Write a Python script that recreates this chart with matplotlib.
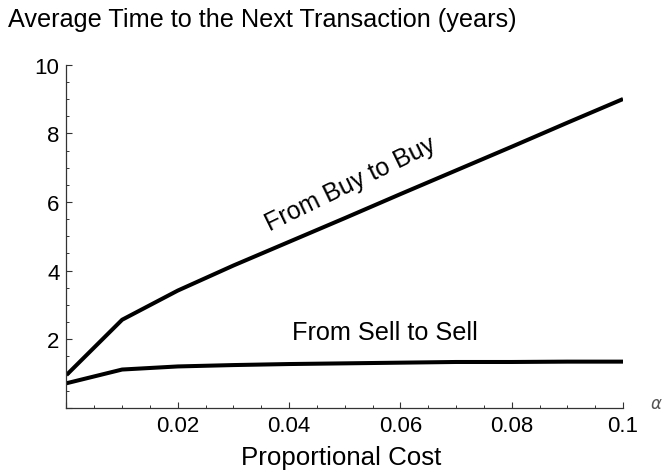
import numpy as np
import matplotlib
matplotlib.use('Agg')
import matplotlib.pyplot as plt
from matplotlib.ticker import MultipleLocator, FuncFormatter

plt.rcParams['font.family'] = ['Liberation Sans', 'DejaVu Sans']

# proportional cost alpha and average time (years)
alpha = [0.0, 0.01, 0.02, 0.03, 0.04, 0.05, 0.06, 0.07, 0.08, 0.09, 0.1]
buy_to_buy = [0.96, 2.57, 3.42, 4.15, 4.84, 5.53, 6.23, 6.92, 7.61, 8.31, 9.0]
sell_to_sell = [0.72, 1.12, 1.21, 1.25, 1.28, 1.30, 1.32, 1.34, 1.34, 1.35, 1.35]

fig = plt.figure(figsize=(6.66, 4.77), dpi=100)
ax = fig.add_axes([0.0998, 0.1426, 0.8357, 0.7197])

ax.plot(alpha, buy_to_buy, color='black', lw=2.9, solid_capstyle='butt')
ax.plot(alpha, sell_to_sell, color='black', lw=2.9, solid_capstyle='butt')

ax.set_xlim(0, 0.1)
ax.set_ylim(0, 10)
for s in ['top', 'right']:
    ax.spines[s].set_visible(False)
for s in ['left', 'bottom']:
    ax.spines[s].set_linewidth(0.9)
    ax.spines[s].set_color('#333333')

ax.xaxis.set_major_locator(MultipleLocator(0.02))
ax.xaxis.set_minor_locator(MultipleLocator(0.005))
ax.yaxis.set_major_locator(MultipleLocator(2))
ax.yaxis.set_minor_locator(MultipleLocator(0.5))
ax.xaxis.set_major_formatter(FuncFormatter(lambda v, p: '' if v == 0 else ('%g' % round(v, 3))))
ax.yaxis.set_major_formatter(FuncFormatter(lambda v, p: '' if v == 0 else '%d' % v))
ax.tick_params(which='major', direction='in', length=4.5, width=0.8, labelsize=16, color='#333333', pad=5)
ax.tick_params(which='minor', direction='in', length=2.5, width=0.7, color='#333333')

fig.text(0.012, 0.958, 'Average Time to the Next Transaction (years)', fontsize=18.2, va='center', ha='left')
fig.text(0.512, 0.04, 'Proportional Cost', fontsize=18.6, va='center', ha='center')
fig.text(0.976, 0.151, r'$\alpha$', fontsize=12, color='#555555', va='center', ha='left')

ax.text(0.0511, 6.55, 'From Buy to Buy', fontsize=18, rotation=26, ha='center', va='center')
ax.text(0.0572, 2.2, 'From Sell to Sell', fontsize=18.2, ha='center', va='center')

fig.savefig('out.png', dpi=100)
